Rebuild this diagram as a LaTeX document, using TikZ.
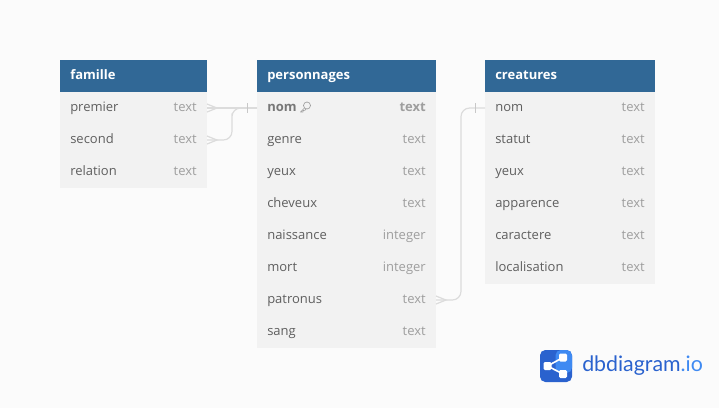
\documentclass[tikz,border=0pt]{standalone}
\usepackage{fontspec}
\setmainfont{Open Sans}
\newfontfamily\logofont{Lato}
\definecolor{pagebg}{HTML}{FBFBFB}
\definecolor{rowbg}{HTML}{F2F2F2}
\definecolor{headbg}{HTML}{316896}
\definecolor{fieldcol}{HTML}{5F5F5F}
\definecolor{typecol}{HTML}{9E9E9E}
\definecolor{linkcol}{HTML}{DCDCDC}
\definecolor{barcol}{HTML}{C8C8C8}
\definecolor{logodark}{HTML}{2A62CE}
\definecolor{logolight}{HTML}{3F8AF2}
\tikzset{
    tablehead/.style={anchor=north west, fill=headbg, inner sep=0pt, outer sep=0pt, minimum height=24pt},
    headtext/.style={anchor=west, text=white, font=\fontsize{9.75}{12}\selectfont\bfseries, inner sep=0pt, text height=7.5pt, text depth=2pt},
    rowbox/.style={anchor=north west, fill=rowbg, inner sep=0pt, outer sep=0pt, minimum height=24pt},
    fieldtext/.style={anchor=west, text=fieldcol, font=\fontsize{9.75}{12}\selectfont, inner sep=0pt, text height=7.5pt, text depth=2pt},
    typetext/.style={anchor=east, text=typecol, font=\fontsize{9.75}{12}\selectfont, inner sep=0pt, text height=7.5pt, text depth=2pt},
    link/.style={draw=linkcol, line width=0.9pt},
    bar/.style={draw=barcol, line width=0.6pt},
    logodot/.style={fill=white, rounded corners=1pt}
}
\begin{document}
\begin{tikzpicture}[x=0.75pt, y=-0.75pt]
    \fill[pagebg] (0,0) rectangle (719,408);
    \useasboundingbox (0,0) rectangle (719,408);

    % Tables
    \node[tablehead, minimum width=110.25pt] (famille) at (60,60) {};
    \node[headtext, xshift=7.5pt] (famille-title) at (famille.west) {famille};
    \foreach \f/\t [count=\i] in {premier/text, second/text, relation/text} {
        \node[rowbox, minimum width=110.25pt] (famille-\f) at (60,{60+32*\i}) {};
        \node[fieldtext, xshift=7.5pt] (famille-\f-name) at (famille-\f.west) {\f};
        \node[typetext, xshift=-7.5pt] (famille-\f-type) at (famille-\f.east) {\t};
    }

    \node[tablehead, minimum width=134.25pt] (personnages) at (257,60) {};
    \node[headtext, xshift=7.5pt] (personnages-title) at (personnages.west) {personnages};
    \foreach \f/\t [count=\i] in {nom/text, genre/text, yeux/text, cheveux/text, naissance/integer, mort/integer, patronus/text, sang/text} {
        \node[rowbox, minimum width=134.25pt] (personnages-\f) at (257,{60+32*\i}) {};
        \ifnum\i>1
            \node[fieldtext, xshift=7.5pt] (personnages-\f-name) at (personnages-\f.west) {\f};
            \node[typetext, xshift=-7.5pt] (personnages-\f-type) at (personnages-\f.east) {\t};
        \fi
    }
    \node[fieldtext, xshift=7.5pt, font=\fontsize{9.75}{12}\selectfont\bfseries, text=fieldcol!85] (personnages-nom-name) at (personnages-nom.west) {nom};
    \node[typetext, xshift=-7.5pt, font=\fontsize{9.75}{12}\selectfont\bfseries] (personnages-nom-type) at (personnages-nom.east) {text};

    \node[tablehead, minimum width=127.5pt] (creatures) at (485,60) {};
    \node[headtext, xshift=7.5pt] (creatures-title) at (creatures.west) {creatures};
    \foreach \f/\t [count=\i] in {nom/text, statut/text, yeux/text, apparence/text, caractere/text, localisation/text} {
        \node[rowbox, minimum width=127.5pt] (creatures-\f) at (485,{60+32*\i}) {};
        \node[fieldtext, xshift=7.5pt] (creatures-\f-name) at (creatures-\f.west) {\f};
        \node[typetext, xshift=-7.5pt] (creatures-\f-type) at (creatures-\f.east) {\t};
    }

    % Key icon
    \draw[typecol, line width=0.5pt] (307,105.5) circle (3.5);
    \draw[typecol, line width=0.5pt, line join=round] (304.5,108) -- (300.5,112) -- (303,112) -- (303.2,110.5) -- (304.8,110.3) -- (306,109);

    % Edges
    \coordinate (bendA) at (232,122);
    \coordinate (bendB) at (461,200);
    \draw[link] (famille-premier.east) -- (personnages-nom.west);
    \draw[link, rounded corners=6.5pt] (famille-second.east) -| (bendA) |- (personnages-nom.west);
    \draw[link, rounded corners=6.5pt] (personnages-patronus.east) -| (bendB) |- (creatures-nom.west);

    % Crow feet and bars
    \foreach \f in {famille-premier, famille-second, personnages-patronus} {
        \draw[link] ([yshift=3pt]\f.east) -- ([xshift=7.5pt]\f.east) -- ([yshift=-3pt]\f.east);
    }
    \draw[bar] ([xshift=-7.5pt, yshift=3.4pt]personnages-nom.west) -- ([xshift=-7.5pt, yshift=-3.4pt]personnages-nom.west);
    \draw[bar] ([xshift=-7.5pt, yshift=3.4pt]creatures-nom.west) -- ([xshift=-7.5pt, yshift=-3.4pt]creatures-nom.west);

    % Logo
    \fill[logodark, rounded corners=4pt] (540,350) rectangle (572,382);
    \fill[logolight, rounded corners=4pt] (555.5,350) -- (572,350) -- (572,373) -- (555.5,373) -- cycle;
    \coordinate (logoA) at (547.5,366);
    \coordinate (logoB) at (563,357.5);
    \coordinate (logoC) at (563,374);
    \draw[white, line width=1.2pt] (logoB) -- (logoA) -- (logoC);
    \fill[logodot] (543.5,362) rectangle (551.5,370);
    \fill[logodot] (559,353.5) rectangle (567,361.5);
    \fill[logodot] (559,370) rectangle (567,378);
    \node[anchor=west, inner sep=0pt, text=logodark, font=\logofont\fontsize{16}{20}\selectfont] (logotext) at (582,366) {dbdiagram\textcolor{logolight}{.io}};
\end{tikzpicture}
\end{document}
